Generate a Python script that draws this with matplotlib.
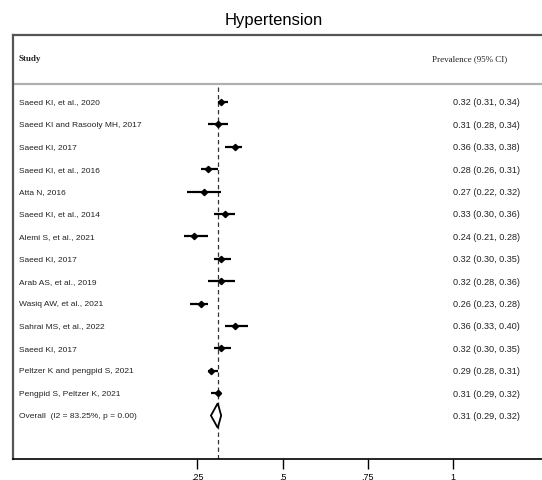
import matplotlib
matplotlib.use("Agg")
import matplotlib.pyplot as plt
from matplotlib.patches import Polygon

studies = [
    "Saeed KI, et al., 2020",
    "Saeed KI and Rasooly MH, 2017",
    "Saeed KI, 2017",
    "Saeed KI, et al., 2016",
    "Atta N, 2016",
    "Saeed KI, et al., 2014",
    "Alemi S, et al., 2021",
    "Saeed KI, 2017",
    "Arab AS, et al., 2019",
    "Wasiq AW, et al., 2021",
    "Sahrai MS, et al., 2022",
    "Saeed KI, 2017",
    "Peltzer K and pengpid S, 2021",
    "Pengpid S, Peltzer K, 2021",
]
prev = [0.32, 0.31, 0.36, 0.28, 0.27, 0.33, 0.24, 0.32, 0.32, 0.26, 0.36, 0.32, 0.29, 0.31]
lower = [0.31, 0.28, 0.33, 0.26, 0.22, 0.30, 0.21, 0.30, 0.28, 0.23, 0.33, 0.30, 0.28, 0.29]
upper = [0.34, 0.34, 0.38, 0.31, 0.32, 0.36, 0.28, 0.35, 0.36, 0.28, 0.40, 0.35, 0.31, 0.32]

overall_label = "Overall  (I2 = 83.25%, p = 0.00)"
overall = (0.31, 0.29, 0.32)

xticks = [0.25, 0.5, 0.75, 1.0]
xticklabels = [".25", ".5", ".75", "1"]

sans = ["Liberation Sans", "DejaVu Sans"]
serif = ["Liberation Serif", "DejaVu Serif"]

fig = plt.figure(figsize=(5.42, 4.81), dpi=100)
ax = fig.add_axes([13 / 542, 1 - 460 / 481, 1.01 - 13 / 542, (460 - 36) / 481])
ax.set_xlim(-0.290, 1.276)
ax.set_ylim(15.94, -2.99)

fig.text(0.505, 1 - 21 / 481, "Hypertension", ha="center", va="center",
         fontsize=12, family=sans)

# column headers and separator
ax.text(-0.2724, -1.96, "Study", ha="left", va="center", fontsize=6.5,
        family=serif, fontweight="bold", color="#222222")
ax.text(0.9377, -1.96, "Prevalence (95% CI)", ha="left", va="center",
        fontsize=6.5, family=serif, color="#222222")
ax.axhline(-0.80, color="#b0b0b0", lw=1.6)

# reference line at the pooled estimate
ax.plot([overall[0], overall[0]], [-0.67, 15.94], color="#333333", lw=0.9,
        ls=(0, (3.5, 2.5)))

for i, name in enumerate(studies):
    ax.plot([lower[i], upper[i]], [i, i], color="black", lw=1.6,
            solid_capstyle="butt")
    ax.plot(prev[i], i, marker="D", color="black", ms=3.2)
    ax.text(-0.2724, i, name, ha="left", va="center", fontsize=6,
            family=sans, color="#222222")
    ax.text(1.1955, i, f"{prev[i]:.2f} ({lower[i]:.2f}, {upper[i]:.2f})",
            ha="right", va="center", fontsize=6.6, family=sans, color="#222222")

k = len(studies)
est, lo, hi = overall
diamond = Polygon([(lo, k), (est, k - 0.55), (hi, k), (est, k + 0.55)],
                  closed=True, facecolor="white", edgecolor="black", lw=1.3,
                  zorder=3)
ax.add_patch(diamond)
ax.text(-0.2724, k, overall_label, ha="left", va="center", fontsize=6,
        family=sans, color="#222222")
ax.text(1.1955, k, f"{est:.2f} ({lo:.2f}, {hi:.2f})", ha="right",
        va="center", fontsize=6.6, family=sans, color="#222222")

ax.set_xticks(xticks)
ax.set_xticklabels(xticklabels, fontsize=6.5, family=sans)
ax.set_yticks([])
ax.tick_params(axis="x", direction="out", length=7, width=1, pad=2)

for side in ["left", "top"]:
    ax.spines[side].set_color("#555555")
    ax.spines[side].set_linewidth(1.6)
ax.spines["bottom"].set_color("black")
ax.spines["bottom"].set_linewidth(1.2)
ax.spines["right"].set_visible(False)

fig.savefig("out.png", dpi=100)
